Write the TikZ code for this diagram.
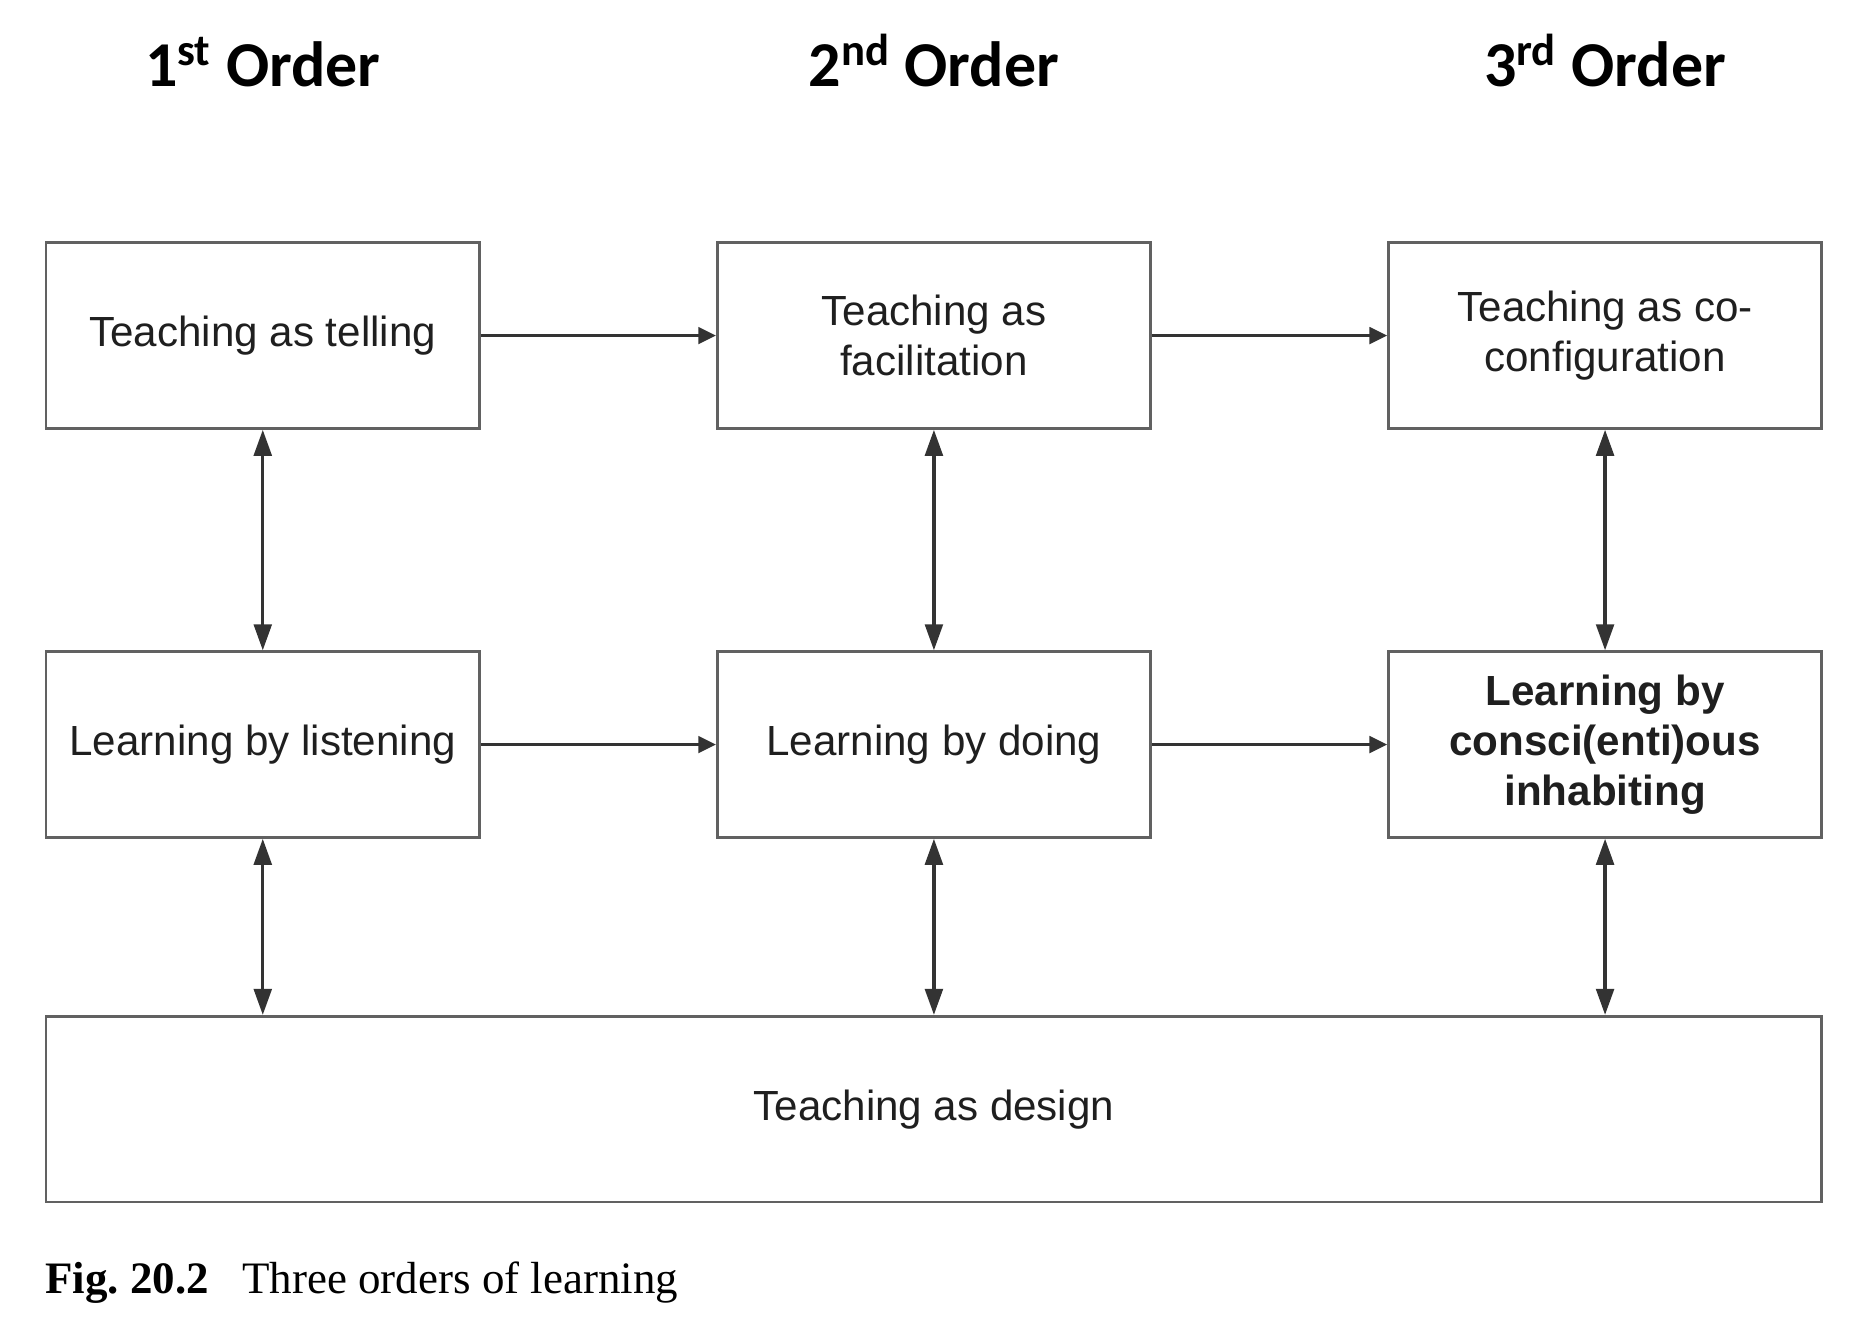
\documentclass[tikz,border=0pt]{standalone}
\usepackage{fontspec}
\setmainfont{Liberation Sans}
\newfontfamily\headfont{Carlito}
\newfontfamily\capfont{Liberation Serif}
\usetikzlibrary{arrows.meta}
\begin{document}
\begin{tikzpicture}[x=0.5pt,y=-0.5pt,
  box/.style={draw=black!62,line width=1.1pt,minimum width=183pt,minimum height=78.5pt,inner sep=0pt,align=center,font=\fontsize{17.8}{21}\selectfont,text=black!88},
  conn/.style={draw=black!80,line width=1.35pt,-{Triangle[length=7.5pt,width=7pt]}},
  both/.style={draw=black!80,line width=1.35pt,{Triangle[length=11pt,width=7.5pt]}-{Triangle[length=11pt,width=7.5pt]}},
  head/.style={font=\headfont\bfseries\fontsize{27}{30}\selectfont,anchor=base}]
\useasboundingbox (0,0) rectangle (1568,1120.3);

\node[head] (h1) at (222,73) {1\textsuperscript{st} Order};
\node[head] (h2) at (789,73) {2\textsuperscript{nd} Order};
\node[head] (h3) at (1356,73) {3\textsuperscript{rd} Order};

\node[box] (t1) at (222,283.5) {Teaching as telling};
\node[box] (t2) at (789,283.5) {Teaching as\\facilitation};
\node[box] (t3) at (1356,283.5) {Teaching as co-\\configuration};

\node[box] (l1) at (222,629) {Learning by listening};
\node[box] (l2) at (789,629) {Learning by doing};
\node[box,font=\bfseries\fontsize{17.8}{21}\selectfont] (l3) at (1356,629) {Learning by\\consci(enti)ous\\inhabiting};

\node[box,minimum width=750pt] (d) at (789,937) {Teaching as design};

\draw[conn] (t1) -- (t2);
\draw[conn] (t2) -- (t3);
\draw[conn] (l1) -- (l2);
\draw[conn] (l2) -- (l3);

\draw[both] (t1) -- (l1);
\draw[both] (t2) -- (l2);
\draw[both] (t3) -- (l3);

\draw[both] (l1) -- (l1 |- d.north);
\draw[both] (l2) -- (d);
\draw[both] (l3) -- (l3 |- d.north);

\node[anchor=base west,inner sep=0pt] (cap) at (38,1093) {\capfont\fontsize{19}{22}\selectfont\textbf{Fig.\ 20.2}\hspace{14pt}Three orders of learning};
\end{tikzpicture}
\end{document}
